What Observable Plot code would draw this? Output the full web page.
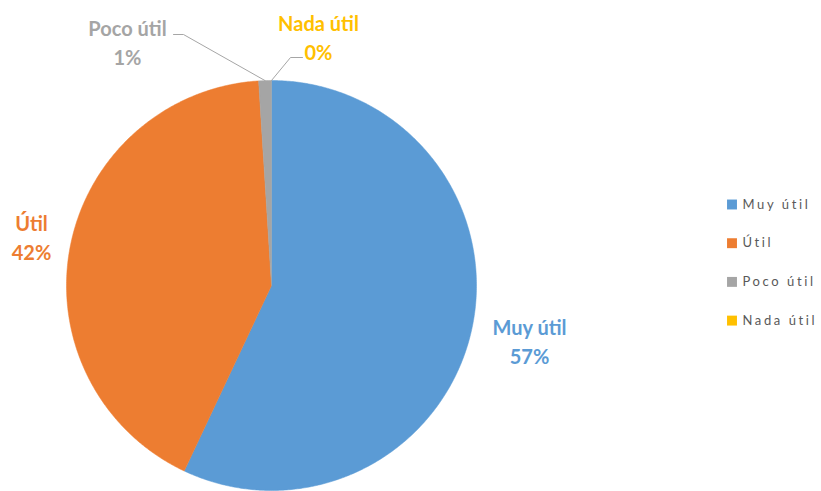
<!DOCTYPE html>
<html>
<head>
<meta charset="utf-8">
<script src="https://cdn.jsdelivr.net/npm/d3@7"></script>
<script src="https://cdn.jsdelivr.net/npm/@observablehq/plot@0.6"></script>
<style>
  html, body { margin: 0; padding: 0; background: #fff; }
  #chart svg { display: block; }
</style>
</head>
<body>
<div id="chart"></div>
<script>
// ---- data ----
const categories = ["Muy útil", "Útil", "Poco útil", "Nada útil"];
const percents = [57, 42, 1, 0];
const colors = ["#5B9BD5", "#ED7D31", "#A5A5A5", "#FFC000"];

// ---- layout (pixel positions of the picture) ----
const W = 821, H = 491;
const CX = 271, CY = 285, R = 205;
const px2x = px => (px - CX) / R;
const py2y = py => (CY - py) / R;
const labelLayout = {
  "Muy útil": {x: 529, y: 340},
  "Útil": {x: 31, y: 236},
  "Poco útil": {x: 127, y: 41},
  "Nada útil": {x: 318, y: 36}
};
const leaderLayout = {
  "Poco útil": [[173, 34], [183, 34]],
  "Nada útil": [[302, 57], [290, 57]]
};
const legendX = 731.5, legendTextX = 742, legendY0 = 204, legendStep = 38.7;

// ---- derive geometry through d3.pie ----
const data = categories.map((name, i) => ({name, value: percents[i]}));
const arcs = d3.pie().sort(null).value(d => d.value).startAngle(0).endAngle(2 * Math.PI)(data);

function slicePoints(a) {
  const pts = [{x: 0, y: 0}];
  const n = Math.max(2, Math.ceil((a.endAngle - a.startAngle) / (Math.PI / 360)));
  for (let k = 0; k <= n; k++) {
    const t = a.startAngle + (a.endAngle - a.startAngle) * k / n;
    pts.push({x: Math.sin(t), y: Math.cos(t)});
  }
  pts.push({x: 0, y: 0});
  return pts;
}

const labels = arcs.map(a => ({
  name: a.data.name,
  text: `${a.data.name}\n${a.data.value}%`,
  x: px2x(labelLayout[a.data.name].x),
  y: py2y(labelLayout[a.data.name].y)
}));

const leaderPts = [];
for (const a of arcs) {
  const lay = leaderLayout[a.data.name];
  if (!lay) continue;
  const mid = (a.startAngle + a.endAngle) / 2;
  for (const [px, py] of lay) leaderPts.push({name: a.data.name, x: px2x(px), y: py2y(py)});
  leaderPts.push({name: a.data.name, x: Math.sin(mid), y: Math.cos(mid)});
}

const legend = categories.map((name, i) => ({
  name,
  x: px2x(legendX),
  tx: px2x(legendTextX),
  y: py2y(legendY0 + i * legendStep)
}));

const sliceMarks = arcs.filter(a => a.value > 0).map(a => {
  const c = colors[categories.indexOf(a.data.name)];
  return Plot.line(slicePoints(a), {
    x: "x", y: "y", fill: c, stroke: c, strokeWidth: 0.5, curve: "linear"
  });
});

const chart = Plot.plot({
  width: W,
  height: H,
  margin: 0,
  style: {fontFamily: "Lato, 'Open Sans', sans-serif", background: "#fff"},
  x: {domain: [-1, 1], range: [CX - R, CX + R], axis: null},
  y: {domain: [-1, 1], range: [CY + R, CY - R], axis: null},
  color: {domain: categories, range: colors},
  marks: [
    ...sliceMarks,
    Plot.line(leaderPts, {
      x: "x", y: "y", z: "name", stroke: "#A6A6A6", strokeWidth: 1
    }),
    Plot.text(labels, {
      x: "x", y: "y", text: "text", fill: "name",
      fontSize: 20, fontWeight: "bold", lineHeight: 1.42,
      textAnchor: "middle", lineAnchor: "middle"
    }),
    Plot.dot(legend, {
      x: "x", y: "y", fill: "name", symbol: "square", r: 5.6, stroke: null
    }),
    Plot.text(legend, {
      x: "tx", y: "y", text: "name", fill: "#595959",
      fontSize: 13, textAnchor: "start", lineAnchor: "middle"
    })
  ]
});

document.getElementById("chart").appendChild(chart);
chart.querySelectorAll('g[aria-label="text"]').forEach((g, i) => {
  if (i === 1) g.style.letterSpacing = "2.6px";
});
</script>
</body>
</html>
